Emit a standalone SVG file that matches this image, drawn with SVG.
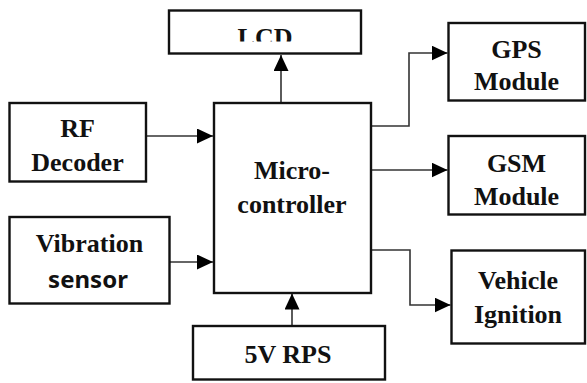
<svg xmlns="http://www.w3.org/2000/svg" width="587" height="383" viewBox="0 0 587 383">
<style>
.box{fill:#fff;stroke:#111;stroke-width:2.4}
.con{fill:none;stroke:#333;stroke-width:1.6}
.t{font-family:"Liberation Serif","Times New Roman",serif;font-weight:bold;font-size:26px;fill:#111;text-anchor:middle}
.s{font-family:"Noto Sans","Open Sans",sans-serif;font-weight:bold;font-size:24px;fill:#111;text-anchor:middle}
</style>
<defs>
<marker id="arr" markerUnits="userSpaceOnUse" markerWidth="16" markerHeight="15" refX="16" refY="7.5" orient="auto">
<path d="M0,0 L16,7.5 L0,15 z" fill="#000"/>
</marker>
<clipPath id="lcdclip"><rect x="169" y="10" width="192" height="31.5"/></clipPath>
</defs>
<g id="connectors">
<path class="con" d="M281,103 V55" marker-end="url(#arr)"/>
<path class="con" d="M146,136 H213" marker-end="url(#arr)"/>
<path class="con" d="M169.5,262 H213" marker-end="url(#arr)"/>
<path class="con" d="M292,326 V293.5" marker-end="url(#arr)"/>
<path class="con" d="M371,126 H409 V53 H447.5" marker-end="url(#arr)"/>
<path class="con" d="M371,170 H447.5" marker-end="url(#arr)"/>
<path class="con" d="M371,250 H410 V305 H450.5" marker-end="url(#arr)"/>
</g>
<g id="lcd">
<rect class="box" x="169" y="10.5" width="192" height="43"/>
<text class="t" x="265" y="45.5" clip-path="url(#lcdclip)">LCD</text>
</g>
<g id="rf-decoder">
<rect class="box" x="9.5" y="103" width="136.5" height="78.5"/>
<text class="t" x="77.5" y="137">RF</text>
<text class="t" x="77.5" y="171">Decoder</text>
</g>
<g id="microcontroller">
<rect class="box" x="214" y="103" width="157" height="190"/>
<text class="t" x="292" y="179">Micro-</text>
<text class="t" x="292" y="213">controller</text>
</g>
<g id="vibration-sensor">
<rect class="box" x="9.5" y="217" width="160" height="86.5"/>
<text class="t" x="89.5" y="252">Vibration</text>
<text class="s" x="88" y="288">sensor</text>
</g>
<g id="rps">
<rect class="box" x="193" y="326" width="192" height="53.5"/>
<text class="t" x="288" y="363">5V RPS</text>
</g>
<g id="gps">
<rect class="box" x="448.5" y="23" width="136.5" height="77.5"/>
<text class="t" x="516.5" y="57.5">GPS</text>
<text class="t" x="516.5" y="90">Module</text>
</g>
<g id="gsm">
<rect class="box" x="448.5" y="136" width="136.5" height="78.5"/>
<text class="t" x="516.5" y="172">GSM</text>
<text class="t" x="516.5" y="204.5">Module</text>
</g>
<g id="ignition">
<rect class="box" x="451.5" y="250.5" width="133.5" height="93"/>
<text class="t" x="518" y="289">Vehicle</text>
<text class="t" x="518" y="323">Ignition</text>
</g>
</svg>
